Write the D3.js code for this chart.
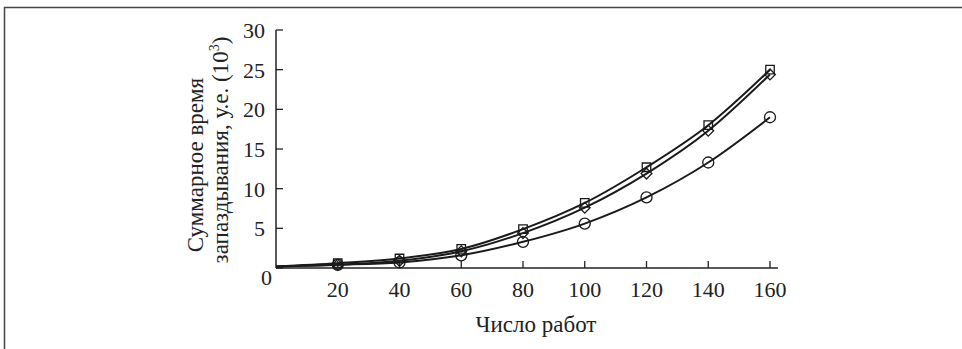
<!DOCTYPE html>
<html>
<head>
<meta charset="utf-8">
<script src="https://cdn.jsdelivr.net/npm/d3@7"></script>
<style>
  body { margin: 0; background: #fff; }
  svg text { font-family: "Liberation Serif", "DejaVu Serif", serif; fill: #222; }
</style>
</head>
<body>
<div id="chart"></div>
<script>
const jobs = [0, 20, 40, 60, 80, 100, 120, 140, 160];
const squareSeries = [0.2, 0.6, 1.2, 2.4, 4.9, 8.2, 12.7, 18.0, 25.0];
const diamondSeries = [0.2, 0.4, 0.9, 2.1, 4.4, 7.6, 11.9, 17.3, 24.4];
const circleSeries = [0.2, 0.4, 0.7, 1.6, 3.3, 5.6, 8.9, 13.3, 19.0];
const xTicks = [20, 40, 60, 80, 100, 120, 140, 160];
const yTicks = [0, 5, 10, 15, 20, 25, 30];

const width = 962, height = 349;
const svg = d3.select('#chart').append('svg')
    .attr('width', width)
    .attr('height', height);

// frame around the figure (top and left edges only)
svg.append('path')
    .attr('d', `M4.5,${height} V7.5 H${width}`)
    .attr('fill', 'none')
    .attr('stroke', '#444')
    .attr('stroke-width', 1.5);

const x = d3.scaleLinear().domain([0, 160]).range([276, 770]);
const y = d3.scaleLinear().domain([0, 30]).range([268, 30]);

// x axis
const xAxis = svg.append('g').attr('transform', `translate(0,${y(0)})`);
xAxis.append('line')
    .attr('x1', x(0)).attr('x2', 778)
    .attr('stroke', '#222').attr('stroke-width', 1.5);
xAxis.selectAll('line.tick').data(xTicks).join('line')
    .attr('class', 'tick')
    .attr('x1', d => x(d)).attr('x2', d => x(d))
    .attr('y1', 0).attr('y2', -7)
    .attr('stroke', '#222').attr('stroke-width', 1.3);
xAxis.selectAll('text').data(xTicks).join('text')
    .attr('x', d => x(d)).attr('y', 29)
    .attr('text-anchor', 'middle')
    .attr('font-size', 22)
    .text(d => d);

// y axis
const yAxis = svg.append('g').attr('transform', `translate(${x(0)},0)`);
yAxis.append('line')
    .attr('y1', y(0)).attr('y2', y(30))
    .attr('stroke', '#222').attr('stroke-width', 1.5);
yAxis.selectAll('line.tick').data(yTicks).join('line')
    .attr('class', 'tick')
    .attr('y1', d => y(d)).attr('y2', d => y(d))
    .attr('x1', 0).attr('x2', 7)
    .attr('stroke', '#222').attr('stroke-width', 1.3);
yAxis.selectAll('text').data(yTicks).join('text')
    .attr('x', d => d === 0 ? -4 : -11)
    .attr('y', d => y(d) + (d === 0 ? 17 : 8))
    .attr('text-anchor', 'end')
    .attr('font-size', 22)
    .text(d => d);

// axis titles
svg.append('text')
    .attr('x', 536).attr('y', 332)
    .attr('text-anchor', 'middle')
    .attr('font-size', 23)
    .text('Число работ');

const yTitle = svg.append('text')
    .attr('transform', 'rotate(-90)')
    .attr('text-anchor', 'middle')
    .attr('font-size', 23);
yTitle.append('tspan')
    .attr('x', -165).attr('y', 203)
    .text('Суммарное время');
const line2 = yTitle.append('tspan')
    .attr('x', -150).attr('y', 228)
    .text('запаздывания, у.е. (10');
line2.append('tspan').attr('font-size', 14).attr('dy', -9).text('3');
line2.append('tspan').attr('dy', 9).text(')');

// curves
const line = d3.line()
    .x((d, i) => x(jobs[i]))
    .y(d => y(d))
    .curve(d3.curveMonotoneX);

const series = [
    { values: squareSeries, marker: 'square' },
    { values: diamondSeries, marker: 'diamond' },
    { values: circleSeries, marker: 'circle' }
];

series.forEach(s => {
    svg.append('path')
        .attr('d', line(s.values))
        .attr('fill', 'none')
        .attr('stroke', '#1a1a1a')
        .attr('stroke-width', 2);
});

const symbolMap = {
    square: { gen: d3.symbol().type(d3.symbolSquare).size(72), rot: 0 },
    diamond: { gen: d3.symbol().type(d3.symbolSquare).size(58), rot: 45 },
    circle: { gen: d3.symbol().type(d3.symbolCircle).size(95), rot: 0 }
};

series.forEach(s => {
    const m = symbolMap[s.marker];
    const pts = s.values.map((v, i) => ({ j: jobs[i], v })).filter(p => p.j > 0);
    svg.append('g').selectAll('path').data(pts).join('path')
        .attr('transform', p => `translate(${x(p.j)},${y(p.v)}) rotate(${m.rot})`)
        .attr('d', m.gen)
        .attr('fill', 'none')
        .attr('stroke', '#1a1a1a')
        .attr('stroke-width', 1.3);
});
</script>
</body>
</html>
